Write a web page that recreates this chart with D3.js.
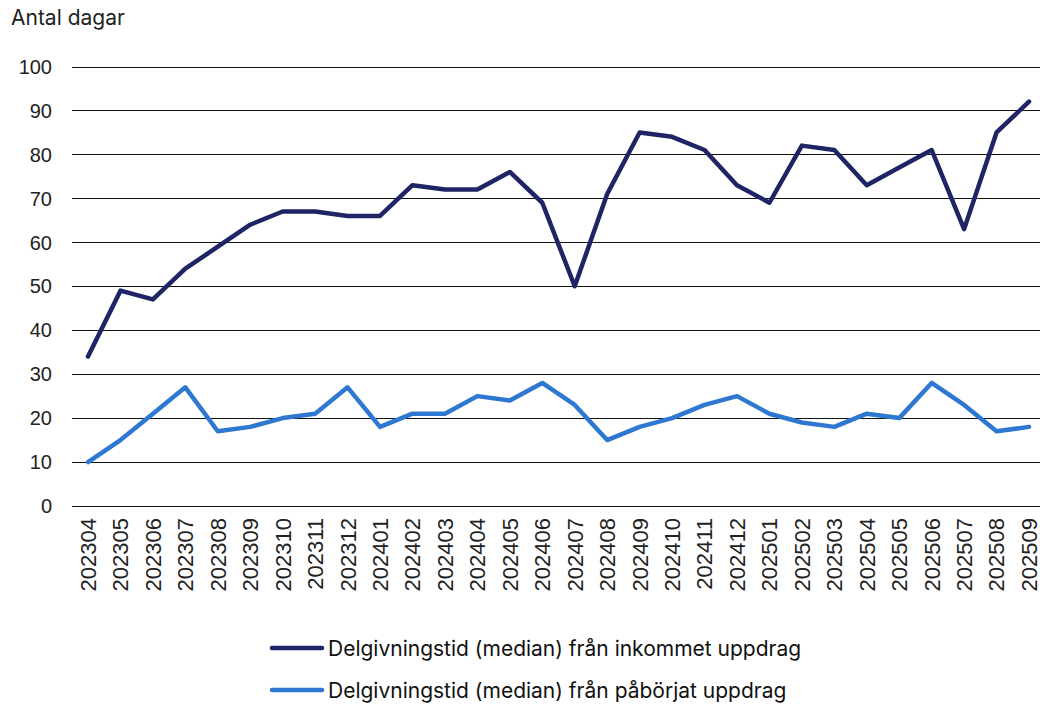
<!DOCTYPE html>
<html>
<head>
<meta charset="utf-8">
<script src="https://cdn.jsdelivr.net/npm/d3@7"></script>
<style>
  body { margin: 0; background: #fff; }
  svg { display: block; }
</style>
</head>
<body>
<div id="chart"></div>
<script>
const months = ['202304', '202305', '202306', '202307', '202308', '202309', '202310', '202311', '202312',
  '202401', '202402', '202403', '202404', '202405', '202406', '202407', '202408', '202409', '202410', '202411', '202412',
  '202501', '202502', '202503', '202504', '202505', '202506', '202507', '202508', '202509'];
const inkommet = [34, 49, 47, 54, 59, 64, 67, 67, 66, 66, 73, 72, 72, 76, 69, 50, 71, 85, 84, 81, 73, 69, 82, 81, 73, 77, 81, 63, 85, 92];
const paborjat = [10, 15, 21, 27, 17, 18, 20, 21, 27, 18, 21, 21, 25, 24, 28, 23, 15, 18, 20, 23, 25, 21, 19, 18, 21, 20, 28, 23, 17, 18];
const yTicks = [0, 10, 20, 30, 40, 50, 60, 70, 80, 90, 100];
const seriesNames = ['Delgivningstid (median) från inkommet uppdrag', 'Delgivningstid (median) från påbörjat uppdrag'];
const colors = ['#1e2464', '#2f78d2'];

const w = 1040;
const h = 706;

const svg = d3.select('#chart')
  .append('svg')
  .attr('width', w)
  .attr('height', h);

const x = d3.scalePoint()
  .domain(months)
  .range([88, 1029]);

const y = d3.scaleLinear()
  .domain([0, 100])
  .range([506, 66.5]);

// gridlines
svg.append('g')
  .selectAll('line')
  .data(yTicks)
  .enter()
  .append('line')
  .attr('x1', 72)
  .attr('x2', 1045)
  .attr('y1', d => Math.round(y(d)) + 0.5)
  .attr('y2', d => Math.round(y(d)) + 0.5)
  .attr('stroke', '#111')
  .attr('stroke-width', 1.2);

// y labels
svg.append('g')
  .selectAll('text')
  .data(yTicks)
  .enter()
  .append('text')
  .attr('x', 52)
  .attr('y', d => y(d))
  .attr('dy', '0.36em')
  .attr('text-anchor', 'end')
  .style('font-family', 'Liberation Sans, Arial, sans-serif')
  .style('font-size', '20px')
  .style('fill', '#222')
  .text(d => d);

// x labels
svg.append('g')
  .selectAll('text')
  .data(months)
  .enter()
  .append('text')
  .attr('transform', d => 'translate(' + x(d) + ',518) rotate(-90)')
  .attr('dy', '0.36em')
  .attr('text-anchor', 'end')
  .style('font-family', 'Liberation Sans, Arial, sans-serif')
  .style('font-size', '22px')
  .style('fill', '#222')
  .text(d => d);

svg.append('text')
  .attr('x', 11)
  .attr('y', 25)
  .style('font-family', 'Inter, sans-serif')
  .style('font-size', '21px')
  .style('fill', '#222')
  .text('Antal dagar');

const line = d3.line()
  .x((d, i) => x(months[i]))
  .y(d => y(d));

[inkommet, paborjat].forEach((s, i) => {
  svg.append('path')
    .datum(s)
    .attr('d', line)
    .attr('fill', 'none')
    .attr('stroke', colors[i])
    .attr('stroke-width', 4.5)
    .attr('stroke-linejoin', 'round')
    .attr('stroke-linecap', 'round');
});

// legend
const legend = svg.append('g')
  .selectAll('g')
  .data(seriesNames)
  .enter()
  .append('g')
  .attr('transform', (d, i) => 'translate(270,' + (648 + i * 42) + ')');

legend.append('line')
  .attr('x1', 2)
  .attr('x2', 52)
  .attr('stroke', (d, i) => colors[i])
  .attr('stroke-width', 4.5)
  .attr('stroke-linecap', 'round');

legend.append('text')
  .attr('x', 58)
  .attr('dy', '0.36em')
  .style('font-family', 'Inter, sans-serif')
  .style('font-size', '21px')
  .style('fill', '#111')
  .text(d => d);
</script>
</body>
</html>
